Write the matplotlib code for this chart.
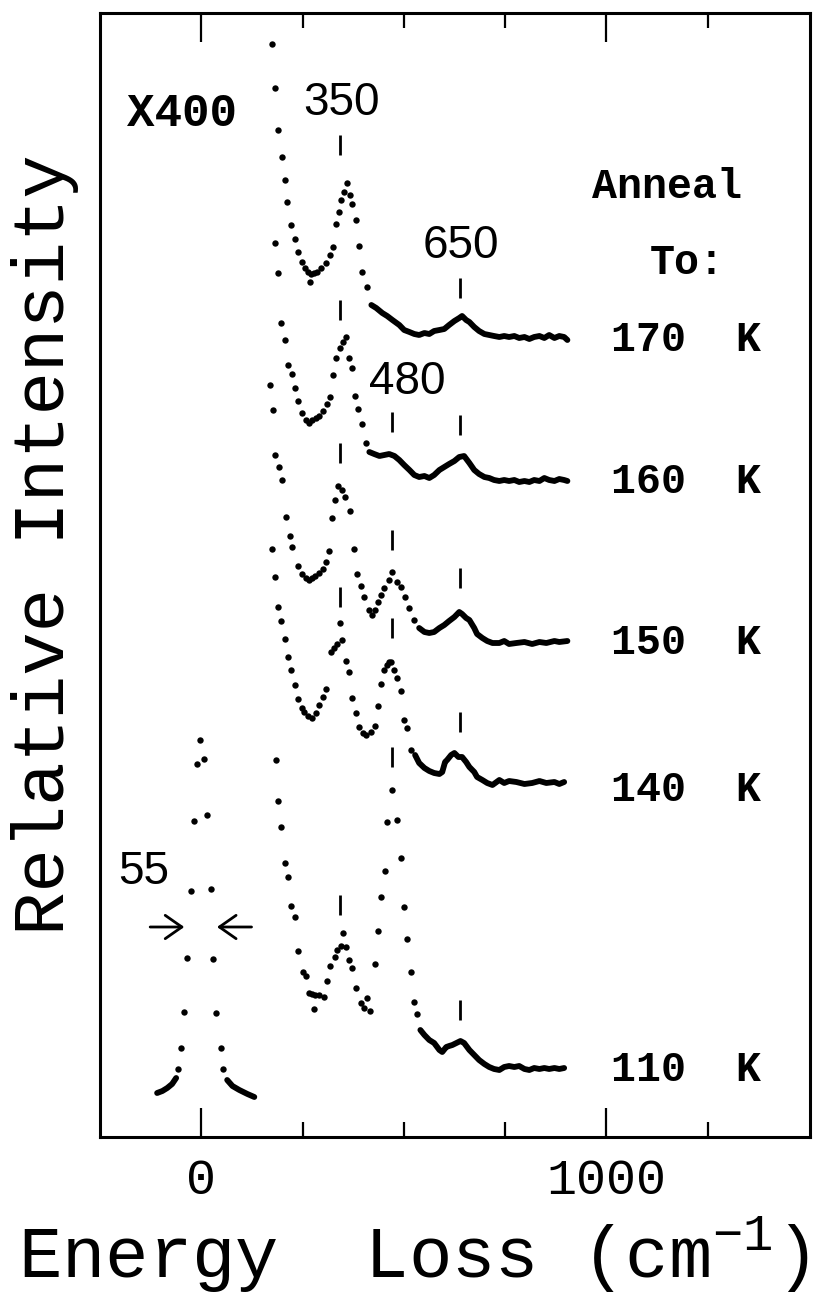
import numpy as np
import matplotlib
matplotlib.use("Agg")
import matplotlib.pyplot as plt
from matplotlib.ticker import FixedLocator

plt.rcParams['mathtext.fontset'] = 'custom'
plt.rcParams['mathtext.rm'] = 'Liberation Mono'
MONO = 'Liberation Mono'
SANS = 'Liberation Sans'

# --- spectra: sparse (dotted) low-energy part and dense trace, energy loss in cm^-1, stacked intensity (a.u.)
# 170 K
d170_x = [175, 183, 190, 200, 207, 212, 222, 232, 240, 249, 257, 264, 272, 279, 286, 269, 296, 309, 319, 326,
          333, 341, 346, 353, 360, 368, 373, 383, 390, 398, 410]
d170_y = [109.3, 104.9, 100.7, 98.0, 95.7, 93.5, 91.2, 89.8, 88.5, 87.5, 86.9, 86.5, 86.3, 86.4, 86.5, 85.5, 86.9,
          87.4, 88.2, 89.0, 91.3, 92.5, 93.7, 94.5, 95.4, 94.2, 93.3, 91.7, 89.1, 86.5, 85.0]
t170_x = [420, 432, 447, 459, 472, 489, 501, 514, 526, 538, 551, 563, 575, 588, 600, 612, 625, 637, 644, 654, 662,
          674, 686, 699, 711, 723, 736, 748, 760, 773, 785, 798, 810, 822, 835, 847, 859, 872, 884, 896, 904]
t170_y = [83.2, 82.9, 82.4, 82.1, 81.7, 81.2, 80.7, 80.5, 80.3, 80.2, 80.4, 80.3, 80.6, 80.7, 80.8, 81.2, 81.6, 81.9,
          82.1, 81.7, 81.5, 81.0, 80.6, 80.3, 80.2, 80.1, 80.0, 80.1, 80.0, 80.1, 79.9, 80.0, 79.8, 80.0, 80.1, 79.9,
          80.2, 79.9, 80.1, 80.0, 79.7]
# 160 K
d160_x = [183, 190, 198, 207, 215, 225, 232, 240, 249, 259, 267, 274, 284, 291, 301, 311, 319, 326, 333, 343, 351,
          358, 365, 373, 380, 388, 398, 407]
d160_y = [89.4, 86.4, 81.4, 79.7, 77.2, 76.3, 74.9, 73.6, 72.4, 71.7, 71.4, 71.7, 71.9, 72.1, 72.6, 73.3, 74.0, 76.2,
          77.9, 78.9, 79.5, 80.0, 77.9, 76.9, 74.1, 72.8, 71.3, 69.4]
t160_x = [415, 427, 440, 452, 464, 477, 489, 501, 514, 526, 538, 551, 563, 575, 588, 600, 612, 625, 637, 649, 662,
          674, 686, 699, 711, 723, 736, 748, 760, 773, 785, 798, 810, 822, 835, 847, 859, 872, 884, 896, 904]
t160_y = [68.5, 68.3, 68.1, 68.2, 68.3, 68.1, 67.7, 67.2, 66.7, 66.2, 66.0, 66.1, 65.9, 66.2, 66.7, 67.0, 67.3, 67.6,
          68.0, 68.1, 67.4, 66.7, 66.3, 66.0, 65.9, 65.7, 65.6, 65.7, 65.6, 65.7, 65.5, 65.6, 65.5, 65.7, 65.6, 65.9,
          65.7, 65.6, 65.8, 65.7, 65.6]
# 150 K
d150_x = [170, 178, 183, 193, 200, 210, 220, 225, 240, 249, 259, 267, 274, 282, 291, 301, 309, 316, 323, 331, 338,
          348, 356, 368, 378, 385, 395, 402, 415, 422, 430, 437, 444, 452, 464, 472, 484, 494, 504, 514, 526]
d150_y = [75.2, 72.7, 68.2, 67.0, 65.7, 62.0, 60.1, 59.0, 57.1, 56.3, 55.9, 55.7, 55.9, 56.1, 56.4, 56.8, 57.5, 58.6,
          61.9, 63.7, 65.1, 64.7, 64.0, 62.6, 58.8, 56.3, 55.1, 54.0, 52.7, 52.2, 52.7, 53.5, 54.2, 54.9, 55.7, 56.5,
          55.5, 55.0, 54.0, 52.9, 51.7]
t150_x = [538, 551, 563, 575, 588, 600, 612, 625, 637, 644, 654, 662, 674, 681, 694, 706, 719, 736, 748, 760, 778,
          798, 817, 835, 852, 872, 884, 904]
t150_y = [50.9, 50.5, 50.4, 50.5, 50.9, 51.2, 51.6, 52.0, 52.5, 52.3, 51.9, 51.7, 50.9, 50.3, 49.9, 49.6, 49.4, 49.4,
          49.6, 49.3, 49.4, 49.5, 49.3, 49.5, 49.4, 49.6, 49.5, 49.6]
# 140 K
d140_x = [175, 183, 190, 198, 207, 215, 222, 232, 240, 249, 254, 264, 274, 284, 291, 301, 309, 321, 328, 336, 343,
          348, 358, 365, 373, 383, 390, 400, 407, 420, 430, 437, 444, 452, 459, 464, 469, 477, 484, 494, 501, 509, 519]
d140_y = [58.8, 56.0, 53.0, 51.6, 49.8, 48.0, 46.7, 45.2, 43.8, 42.9, 42.5, 42.1, 41.9, 42.4, 43.2, 44.0, 44.8, 48.5,
          48.9, 49.3, 51.4, 49.7, 47.6, 46.5, 43.9, 42.4, 41.0, 40.4, 40.2, 40.5, 41.1, 43.1, 45.3, 46.7, 47.2, 47.5,
          47.5, 46.7, 45.9, 44.6, 41.7, 40.9, 38.7]
t140_x = [528, 538, 551, 563, 575, 588, 595, 602, 607, 617, 625, 635, 644, 654, 662, 674, 681, 694, 706, 719, 736,
          748, 760, 778, 798, 817, 835, 852, 872, 884, 896]
t140_y = [38.2, 37.4, 36.9, 36.6, 36.4, 36.3, 36.5, 37.5, 37.7, 38.2, 38.4, 38.0, 38.0, 37.5, 37.0, 36.5, 36.0, 35.7,
          35.4, 35.2, 35.7, 35.4, 35.6, 35.5, 35.3, 35.4, 35.6, 35.4, 35.5, 35.3, 35.5]
# 110 K
d110_x = [185, 190, 198, 207, 215, 222, 232, 240, 252, 259, 267, 274, 282, 291, 304, 279, 311, 319, 331, 336, 346,
          351, 358, 365, 373, 383, 395, 402, 410, 417, 430, 437, 444, 454, 459, 472, 484, 494, 501, 509, 519, 526, 533]
d110_y = [37.7, 33.6, 31.0, 27.4, 26.0, 23.1, 22.0, 18.6, 16.5, 16.1, 14.4, 14.3, 14.2, 14.2, 14.0, 12.8, 15.6, 17.1,
          18.0, 18.7, 19.1, 20.4, 19.0, 17.7, 16.9, 14.9, 13.4, 12.9, 13.9, 12.6, 17.3, 20.6, 24.0, 26.6, 31.5, 34.7,
          31.7, 27.9, 23.0, 19.8, 16.5, 13.5, 12.3]
t110_x = [541, 551, 563, 575, 588, 595, 605, 612, 620, 630, 640, 649, 662, 674, 686, 699, 711, 723, 736, 748, 760,
          773, 785, 798, 810, 822, 835, 847, 859, 872, 884, 896]
t110_y = [10.7, 10.2, 9.7, 9.4, 8.7, 8.5, 9.0, 9.1, 9.2, 9.4, 9.6, 9.4, 8.7, 8.2, 7.7, 7.3, 7.0, 6.8, 6.7, 7.0, 7.1,
          7.0, 7.1, 6.8, 6.7, 6.9, 6.8, 6.9, 6.8, 6.9, 6.8, 6.9]
# elastic peak (unscaled)
el_x = [-2, -10, 7, -17, 15, -25, 25, -35, 30, -42, 37, -49, 49, -57, 54]
el_y = [39.7, 37.3, 37.8, 31.6, 32.2, 24.6, 24.8, 17.9, 17.8, 12.5, 12.4, 8.9, 8.9, 6.8, 6.8]
el_left_x = [-109, -96, -84, -72, -62]
el_left_y = [4.4, 4.6, 4.9, 5.3, 5.9]
el_right_x = [64, 77, 94, 114, 131]
el_right_y = [5.7, 5.1, 4.7, 4.3, 4.0]

# peak markers (energy, lower end)
mark_x = [343, 640, 343, 472, 640, 343, 472, 640, 343, 472, 640, 343, 472, 640]
mark_y = [98.2, 83.9, 81.7, 70.5, 70.2, 67.4, 58.7, 54.9, 53.0, 49.9, 40.5, 22.2, 37.0, 11.7]
MARK_LEN = 2.0

temps = ["170  K", "160  K", "150  K", "140  K", "110  K"]
temp_y = [79.7, 65.5, 49.4, 34.7, 6.7]

peak_labels = ["350", "650", "480"]
peak_label_x = [346, 640, 509]
peak_label_y = [103.4, 89.1, 75.5]

W, H = 820, 1301
fig = plt.figure(figsize=(W / 100, H / 100), dpi=100)
ax = fig.add_axes([100 / W, 164 / H, 710 / W, 1124 / H])

dots = [(d170_x, d170_y), (d160_x, d160_y), (d150_x, d150_y), (d140_x, d140_y), (d110_x, d110_y), (el_x, el_y)]
for dx, dy in dots:
    ax.plot(dx, dy, 'o', color='black', ms=4.6, mew=0)
traces = [(t170_x, t170_y), (t160_x, t160_y), (t150_x, t150_y), (t140_x, t140_y), (t110_x, t110_y),
          (el_left_x, el_left_y), (el_right_x, el_right_y)]
for tx, ty in traces:
    ax.plot(tx, ty, '-', color='black', lw=4.2, solid_capstyle='round', solid_joinstyle='round')

ax.vlines(mark_x, mark_y, np.array(mark_y) + MARK_LEN, color='black', lw=2.0)

for lab, lx, ly in zip(peak_labels, peak_label_x, peak_label_y):
    ax.text(lx, ly, lab, family=SANS, fontsize=33, ha='center', va='center')
ax.text(-47, 102.3, "X400", family=MONO, fontsize=33, fontweight='bold', ha='center', va='center')
ax.text(-141, 26.5, "55", family=SANS, fontsize=33, ha='center', va='center')
arrow = dict(arrowstyle='->,head_length=0.4,head_width=0.28', lw=2, mutation_scale=30, color='black')
ax.annotate('', xy=(-35, 21.0), xytext=(-133, 21.0), arrowprops=arrow)
ax.annotate('', xy=(32, 21.0), xytext=(131, 21.0), arrowprops=arrow)

ax.text(1151, 95.0, "Anneal", family=MONO, fontsize=30, fontweight='bold', ha='center', va='center')
ax.text(1200, 87.4, "To:", family=MONO, fontsize=30, fontweight='bold', ha='center', va='center')
for t, ty in zip(temps, temp_y):
    ax.text(1012, ty, t, family=MONO, fontsize=30, fontweight='bold', ha='left', va='center')

ax.set_xlim(-250, 1503)
ax.set_ylim(0, 112.4)
ax.xaxis.set_major_locator(FixedLocator([0, 1000]))
ax.xaxis.set_minor_locator(FixedLocator([250, 500, 750, 1250]))
ax.set_yticks([])
ax.tick_params(axis='x', which='both', direction='in', top=True, bottom=True, width=1.6)
ax.tick_params(axis='x', which='major', length=21, pad=15, labelsize=36)
ax.tick_params(axis='x', which='minor', length=11)
for lab in ax.get_xticklabels():
    lab.set_family(MONO)
for s in ax.spines.values():
    s.set_linewidth(2.2)

# axis titles placed in figure pixels to match the original offsets
fig.text(18 / W, 1 - 1255 / H, r"Energy  Loss (cm$^{\mathregular{-1}}$)", family=MONO, fontsize=52,
         ha='left', va='center')
fig.text(45 / W, 1 - 545 / H, "Relative Intensity", family=MONO, fontsize=52, rotation=90,
         ha='center', va='center')

fig.savefig("out.png", dpi=100)
